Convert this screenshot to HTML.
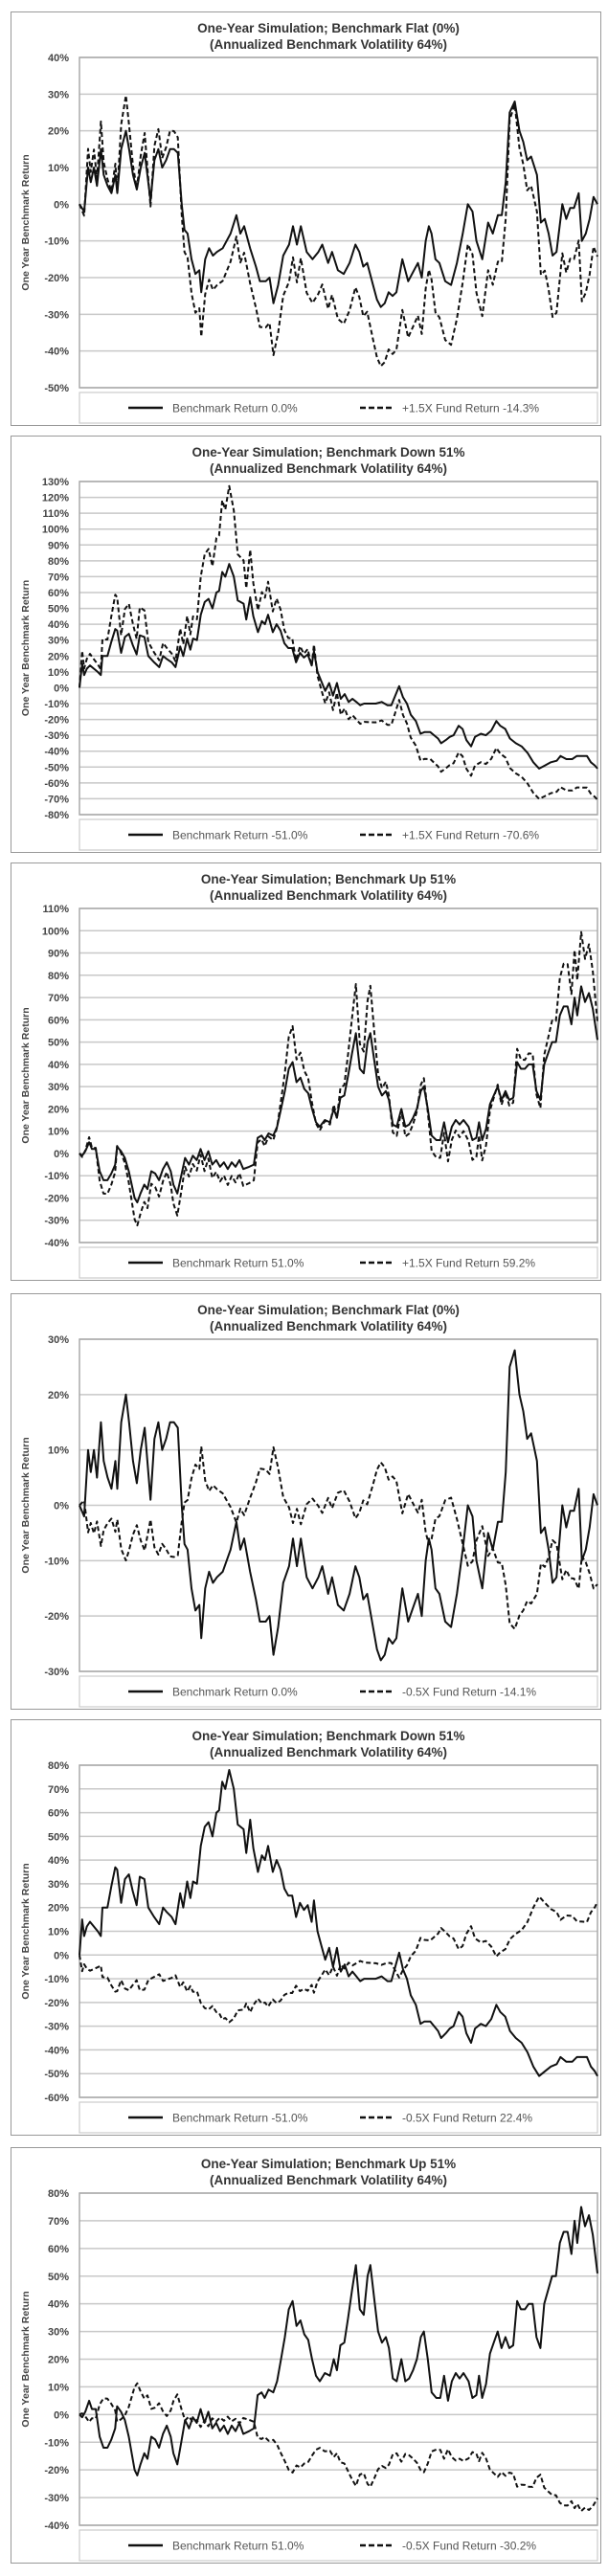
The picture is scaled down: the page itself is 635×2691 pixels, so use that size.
<!DOCTYPE html>
<html><head><meta charset="utf-8">
<style>
html,body{margin:0;padding:0;background:#fff;}
svg{display:block;}
text{font-family:"Liberation Sans",Arial,sans-serif;}
.t{font-size:13.5px;font-weight:bold;fill:#333;text-anchor:middle;}
.k{font-size:11px;fill:#444;text-anchor:end;font-weight:bold;}
.yl{font-size:10.5px;font-weight:bold;fill:#444;text-anchor:middle;}
.lg{font-size:12px;fill:#555;}
</style></head><body>
<svg id="s" width="635" height="2691" viewBox="0 0 635 2691" xmlns="http://www.w3.org/2000/svg"></svg>
<script>
var flat=[[203,0],[215,-2],[225,10],[232,6],[240,10],[248,5],[258,15],[265,8],[275,5],[285,3],[295,8],[300,3],[310,15],[322,20],[330,15],[340,8],[350,4],[360,10],[370,14],[385,1],[395,12],[405,15],[415,10],[425,12],[435,15],[445,15],[455,14],[465,0],[472,-7],[480,-8],[490,-15],[500,-19],[510,-18],[515,-24],[525,-15],[535,-12],[545,-14],[555,-13],[570,-12],[590,-8],[605,-3],[615,-8],[625,-6],[640,-12],[655,-17],[665,-21],[680,-21],[690,-20],[700,-27],[712,-22],[725,-14],[740,-11],[750,-6],[760,-11],[770,-6],[785,-13],[800,-15],[815,-13],[825,-11],[840,-16],[850,-13],[865,-18],[880,-19],[895,-16],[910,-11],[920,-13],[930,-17],[940,-16],[955,-22],[965,-26],[975,-28],[985,-27],[995,-24],[1005,-25],[1015,-24],[1030,-15],[1045,-21],[1060,-18],[1070,-16],[1080,-20],[1090,-10],[1098,-6],[1105,-8],[1115,-15],[1125,-16],[1140,-21],[1155,-22],[1170,-16],[1185,-8],[1198,0],[1210,-2],[1220,-10],[1235,-15],[1250,-5],[1262,-8],[1275,-3],[1285,-3],[1295,6],[1305,25],[1318,28],[1330,20],[1340,17],[1350,12],[1360,13],[1375,8],[1385,-5],[1395,-4],[1405,-8],[1415,-14],[1425,-13],[1440,0],[1450,-4],[1460,-1],[1470,-1],[1482,3],[1490,-10],[1500,-8],[1510,-4],[1520,2],[1530,0]];
var down=[[203,0],[210,15],[215,8],[222,12],[230,14],[240,12],[250,10],[258,8],[262,20],[275,20],[285,29],[295,37],[300,36],[310,22],[320,32],[330,34],[340,27],[350,21],[358,33],[370,32],[380,20],[395,16],[408,13],[418,20],[428,18],[440,16],[450,13],[462,26],[470,20],[480,31],[488,24],[495,31],[505,30],[515,46],[525,54],[535,56],[545,50],[555,60],[562,61],[570,73],[578,70],[588,78],[600,70],[610,55],[625,53],[632,43],[642,57],[650,45],[662,35],[672,42],[680,40],[688,46],[700,35],[710,40],[720,36],[730,28],[740,25],[750,25],[760,16],[770,22],[780,19],[790,21],[800,14],[806,23],[815,10],[825,4],[835,-2],[845,3],[855,-5],[865,3],[875,-7],[885,-4],[895,-9],[905,-7],[915,-9],[925,-11],[935,-10],[950,-10],[965,-10],[980,-9],[995,-11],[1005,-11],[1015,-5],[1025,1],[1035,-6],[1045,-10],[1055,-17],[1068,-21],[1080,-29],[1090,-28],[1105,-28],[1115,-30],[1125,-32],[1133,-35],[1145,-33],[1155,-31],[1165,-30],[1178,-24],[1188,-26],[1198,-33],[1210,-37],[1220,-31],[1235,-29],[1248,-30],[1262,-27],[1275,-21],[1285,-24],[1298,-26],[1310,-32],[1325,-35],[1340,-37],[1355,-41],[1370,-47],[1385,-51],[1400,-49],[1415,-47],[1430,-46],[1440,-43],[1455,-45],[1470,-45],[1482,-43],[1495,-43],[1508,-43],[1518,-47],[1528,-49],[1535,-51]];
var up=[[203,0],[210,-1],[218,1],[228,5],[235,2],[245,2],[255,-8],[265,-12],[275,-12],[285,-9],[295,-5],[300,3],[310,1],[320,-2],[330,-8],[345,-20],[352,-22],[360,-18],[370,-14],[378,-16],[388,-8],[398,-9],[408,-12],[418,-7],[428,-4],[438,-8],[445,-14],[455,-18],[465,-10],[475,-2],[485,-5],[495,-1],[505,-3],[515,2],[525,-3],[535,1],[545,-5],[555,-3],[565,-6],[575,-4],[585,-7],[595,-4],[605,-6],[615,-3],[625,-7],[640,-6],[652,-5],[662,7],[672,8],[680,6],[690,9],[702,8],[712,12],[722,20],[732,28],[742,38],[752,41],[762,32],[772,34],[782,29],[792,27],[802,20],[812,14],[822,12],[835,15],[848,14],[858,20],[866,16],[875,25],[885,26],[895,35],[905,45],[915,54],[925,38],[935,36],[945,50],[952,54],[962,42],[972,30],[982,26],[992,28],[1000,24],[1010,13],[1020,12],[1032,20],[1042,12],[1052,13],[1062,16],[1072,20],[1082,28],[1090,30],[1100,20],[1110,8],[1122,6],[1132,6],[1142,14],[1152,5],[1162,12],[1172,15],[1182,13],[1192,15],[1205,12],[1215,6],[1225,7],[1232,14],[1240,6],[1250,11],[1260,22],[1270,26],[1280,30],[1290,24],[1300,28],[1310,24],[1320,25],[1330,41],[1340,38],[1350,38],[1360,40],[1370,40],[1380,28],[1390,24],[1400,40],[1410,45],[1420,50],[1430,50],[1440,62],[1450,66],[1460,66],[1470,58],[1478,70],[1485,62],[1495,75],[1505,68],[1515,72],[1525,65],[1537,51]];
var P=[
 {top:12,pt:60,pb:405,max:40,min:-50,st:10,d:flat,L:1.5,n:"Flat (0%)",b:"Benchmark Return 0.0%",f:"+1.5X Fund Return -14.3%"},
 {top:455,pt:503,pb:851,max:130,min:-80,st:10,d:down,L:1.5,n:"Down 51%",b:"Benchmark Return -51.0%",f:"+1.5X Fund Return -70.6%"},
 {top:901,pt:949,pb:1298,max:110,min:-40,st:10,d:up,L:1.5,n:"Up 51%",b:"Benchmark Return 51.0%",f:"+1.5X Fund Return 59.2%"},
 {top:1351,pt:1399,pb:1746,max:30,min:-30,st:10,d:flat,L:-0.5,n:"Flat (0%)",b:"Benchmark Return 0.0%",f:"-0.5X Fund Return -14.1%"},
 {top:1796,pt:1844,pb:2191,max:80,min:-60,st:10,d:down,L:-0.5,n:"Down 51%",b:"Benchmark Return -51.0%",f:"-0.5X Fund Return 22.4%"},
 {top:2243,pt:2291,pb:2638,max:80,min:-40,st:10,d:up,L:-0.5,n:"Up 51%",b:"Benchmark Return 51.0%",f:"-0.5X Fund Return -30.2%"}
];
var h='',PL=83,PR=624;
P.forEach(function(p){
 var lt=p.pb+5,lb=p.pb+37,bot=lb+2;
 h+='<rect x="11.5" y="'+(p.top+.5)+'" width="616" height="'+(bot-p.top)+'" fill="#fff" stroke="#999" stroke-width="1"/>';
 h+='<text class="t" x="343" y="'+(p.top+22)+'">One-Year Simulation; Benchmark '+p.n+'</text>';
 h+='<text class="t" x="343" y="'+(p.top+39)+'">(Annualized Benchmark Volatility 64%)</text>';
 function Y(v){return p.pt+(p.max-v)/(p.max-p.min)*(p.pb-p.pt);}
 for(var v=p.max;v>=p.min;v-=p.st){var y=Y(v);
  h+='<line x1="'+PL+'" x2="'+PR+'" y1="'+y+'" y2="'+y+'" stroke="#c8c8c8" stroke-width="1.5"/>';
  h+='<text class="k" x="72" y="'+(y+4)+'">'+v+'%</text>';}
 h+='<rect x="'+PL+'" y="'+p.pt+'" width="'+(PR-PL)+'" height="'+(p.pb-p.pt)+'" fill="none" stroke="#aaa" stroke-width="1.5"/>';
 var cy=(p.pt+p.pb)/2;
 h+='<text class="yl" transform="translate(30,'+cy+') rotate(-90)">One Year Benchmark Return</text>';
 h+='<rect x="'+PL+'" y="'+lt+'" width="'+(PR-PL)+'" height="32" fill="#fff" stroke="#ccc" stroke-width="1.2"/>';
 var ly=lt+16;
 h+='<line x1="134" x2="170" y1="'+ly+'" y2="'+ly+'" stroke="#111" stroke-width="2.5"/>';
 h+='<text class="lg" x="180" y="'+(ly+4.5)+'">'+p.b+'</text>';
 h+='<line x1="376" x2="412" y1="'+ly+'" y2="'+ly+'" stroke="#111" stroke-width="2.5" stroke-dasharray="6,3"/>';
 h+='<text class="lg" x="420" y="'+(ly+4.5)+'">'+p.f+'</text>';
 var d=p.d,x0=d[0][0],x1=d[d.length-1][0],a='',b='';
 d.forEach(function(q,i){var t=(q[0]-x0)/(x1-x0),x=PL+t*(PR-PL),bv=q[1]/100;
  var fv=(Math.pow(1+bv,p.L)*Math.exp(-0.154*t)-1)*100;
  a+=(i?'L':'M')+x.toFixed(1)+' '+Y(q[1]).toFixed(1);
  b+=(i?'L':'M')+x.toFixed(1)+' '+Y(fv).toFixed(1);});
 h+='<path d="'+b+'" fill="none" stroke="#111" stroke-width="2" stroke-dasharray="5,3" stroke-linejoin="round"/>';
 h+='<path d="'+a+'" fill="none" stroke="#111" stroke-width="2" stroke-linejoin="round"/>';
});
document.getElementById('s').innerHTML=h;
</script>
</body></html>
